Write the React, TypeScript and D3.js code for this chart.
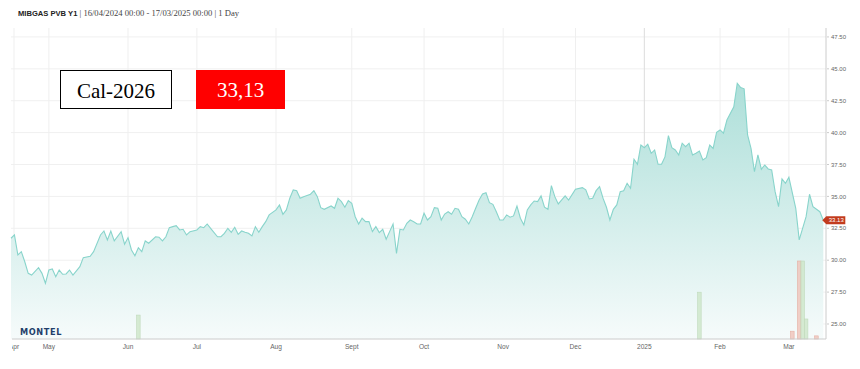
import React, { useEffect, useRef } from "react";
import * as d3 from "d3";

// trading days (weekdays, exchange holidays removed)
const tradeDates = [
  "2024-04-16", "2024-04-17", "2024-04-18", "2024-04-19", "2024-04-22", "2024-04-23", "2024-04-24", "2024-04-26", "2024-04-29", "2024-04-30",
  "2024-05-01", "2024-05-02", "2024-05-03", "2024-05-06", "2024-05-07", "2024-05-08", "2024-05-09", "2024-05-10", "2024-05-14", "2024-05-15",
  "2024-05-17", "2024-05-20", "2024-05-22", "2024-05-23", "2024-05-24", "2024-05-27", "2024-05-28", "2024-05-30", "2024-05-31",
  "2024-06-03", "2024-06-04", "2024-06-05", "2024-06-06", "2024-06-07", "2024-06-10", "2024-06-11", "2024-06-13", "2024-06-14", "2024-06-17",
  "2024-06-18", "2024-06-19", "2024-06-20", "2024-06-21", "2024-06-24", "2024-06-25", "2024-06-26", "2024-06-27",
  "2024-07-01", "2024-07-02", "2024-07-03", "2024-07-04", "2024-07-05", "2024-07-09", "2024-07-10", "2024-07-11", "2024-07-12", "2024-07-15",
  "2024-07-16", "2024-07-17", "2024-07-18", "2024-07-19", "2024-07-22", "2024-07-23", "2024-07-24", "2024-07-25", "2024-07-26", "2024-07-29", "2024-07-30",
  "2024-08-01", "2024-08-02", "2024-08-05", "2024-08-06", "2024-08-07", "2024-08-08", "2024-08-09", "2024-08-12", "2024-08-13", "2024-08-15",
  "2024-08-16", "2024-08-19", "2024-08-20", "2024-08-21", "2024-08-23", "2024-08-26", "2024-08-27", "2024-08-28", "2024-08-29", "2024-08-30",
  "2024-09-02", "2024-09-03", "2024-09-04", "2024-09-05", "2024-09-06", "2024-09-09", "2024-09-10", "2024-09-11", "2024-09-12", "2024-09-13",
  "2024-09-16", "2024-09-17", "2024-09-18", "2024-09-19", "2024-09-20", "2024-09-23", "2024-09-24", "2024-09-25", "2024-09-26", "2024-09-27", "2024-09-30",
  "2024-10-01", "2024-10-02", "2024-10-03", "2024-10-04", "2024-10-07", "2024-10-08", "2024-10-09", "2024-10-10", "2024-10-11", "2024-10-14",
  "2024-10-15", "2024-10-16", "2024-10-17", "2024-10-18", "2024-10-21", "2024-10-22", "2024-10-23", "2024-10-24", "2024-10-25", "2024-10-28",
  "2024-10-29", "2024-10-30", "2024-10-31",
  "2024-11-01", "2024-11-04", "2024-11-05", "2024-11-06", "2024-11-07", "2024-11-08", "2024-11-11", "2024-11-12", "2024-11-13", "2024-11-14",
  "2024-11-15", "2024-11-18", "2024-11-19", "2024-11-20", "2024-11-21", "2024-11-22", "2024-11-25", "2024-11-26", "2024-11-27", "2024-11-28",
  "2024-12-02", "2024-12-04", "2024-12-05", "2024-12-06", "2024-12-09", "2024-12-10", "2024-12-11", "2024-12-12", "2024-12-13", "2024-12-16",
  "2024-12-17", "2024-12-18", "2024-12-19", "2024-12-20", "2024-12-23", "2024-12-24", "2024-12-27", "2024-12-30", "2024-12-31",
  "2025-01-02", "2025-01-03", "2025-01-06", "2025-01-07", "2025-01-08", "2025-01-09", "2025-01-10", "2025-01-13", "2025-01-14", "2025-01-15",
  "2025-01-16", "2025-01-17", "2025-01-20", "2025-01-21", "2025-01-22", "2025-01-23", "2025-01-24", "2025-01-27", "2025-01-28", "2025-01-29",
  "2025-01-30", "2025-01-31",
  "2025-02-03", "2025-02-04", "2025-02-05", "2025-02-07", "2025-02-10", "2025-02-11", "2025-02-12", "2025-02-13", "2025-02-14", "2025-02-17",
  "2025-02-18", "2025-02-19", "2025-02-20", "2025-02-21", "2025-02-24", "2025-02-25", "2025-02-26", "2025-02-27", "2025-02-28",
  "2025-03-03", "2025-03-05", "2025-03-06", "2025-03-10", "2025-03-11", "2025-03-12", "2025-03-14", "2025-03-17",
];

const prices = [
  31.72, 31.98, 30.41, 30.67, 29.88, 28.97, 28.84, 29.41, 28.97, 28.19,
  29.23, 29.31, 28.71, 29.23, 28.90, 28.92, 29.23, 28.84, 29.49, 30.20,
  30.31, 30.67, 31.98, 32.29, 31.59, 32.29, 31.51, 32.24, 31.25,
  31.77, 30.80, 30.35, 30.98, 30.67, 31.51, 31.33, 31.84, 31.80, 31.51,
  31.84, 32.55, 32.63, 32.71, 32.37, 32.42, 31.98, 32.24,
  32.37, 32.63, 32.55, 32.84, 32.50, 31.84, 31.84, 32.11, 32.50, 32.19,
  32.58, 32.03, 32.29, 32.19, 32.11, 31.90, 32.63, 32.19, 32.63, 33.02, 33.55,
  33.94, 34.33, 33.60, 33.94, 34.86, 35.51, 35.45, 34.86, 34.98, 35.17,
  35.45, 34.98, 34.12, 33.99, 34.25, 34.07, 34.86, 34.59, 34.15, 34.67,
  34.46, 33.41, 32.84, 33.29, 33.02, 33.02, 32.24, 32.63, 32.16, 32.42,
  31.64, 32.24, 32.84, 30.54, 32.42, 32.37, 32.89, 33.15, 33.02, 32.84, 32.84,
  33.68, 33.15, 33.41, 34.12, 34.07, 33.15, 33.62, 33.80, 33.60, 34.07,
  33.99, 33.41, 33.21, 32.84, 33.41, 34.07, 34.72, 35.19, 35.29, 34.51,
  34.38, 33.80, 33.15,
  33.15, 33.55, 33.37, 33.47, 34.25, 33.29, 32.76, 33.94, 34.33, 34.64,
  34.59, 35.04, 34.15, 33.99, 35.84, 34.98, 34.41, 34.72, 35.04, 34.72,
  35.56, 35.69, 35.51, 34.80, 34.86, 35.45, 35.77, 34.86, 34.15, 33.15,
  33.99, 34.33, 35.37, 35.45, 36.03, 35.64, 37.91, 37.52, 39.03,
  38.82, 39.09, 38.38, 38.64, 37.52, 37.52, 38.10, 39.76, 38.82, 38.64,
  38.25, 39.17, 38.90, 39.17, 38.25, 38.38, 38.56, 37.86, 38.04, 39.03,
  38.77, 40.03,
  40.21, 39.95, 40.99, 42.03, 43.87, 43.53, 43.43, 39.82, 38.77, 36.94,
  38.25, 37.13, 37.46, 37.15, 37.07, 35.37, 34.20, 36.37, 36.03,
  36.50, 34.07, 31.59, 33.41, 35.17, 34.20, 33.80, 33.13,
];

const volumeDates = ["2024-06-06", "2025-01-24", "2025-03-04", "2025-03-06", "2025-03-07", "2025-03-10", "2025-03-13"];
const volumes = [9.2, 18, 3, 30, 30, 7.7, 1.2];
const volumeSide = ["up", "up", "down", "down", "up", "up", "down"];

const holidays = ["2024-12-25", "2024-12-26", "2025-01-01"];
const firstDay = "2024-04-16";
const lastDay = "2025-03-17";

const yTicks = [25, 27.5, 30, 32.5, 35, 37.5, 40, 42.5, 45, 47.5];
const monthTickDates = ["2024-04-16", "2024-05-01", "2024-06-03", "2024-07-01", "2024-08-01", "2024-09-02", "2024-10-01", "2024-11-01", "2024-12-02", "2025-01-02", "2025-02-03", "2025-03-03"];
const monthTickLabels = ["Apr", "May", "Jun", "Jul", "Aug", "Sept", "Oct", "Nov", "Dec", "2025", "Feb", "Mar"];

const contract = "Cal-2026";
const lastPriceLabel = "33,13";
const lastPrice = 33.13;

const W = 860;
const H = 369;

const App = () => {
  const svgRef = useRef<SVGSVGElement | null>(null);

  useEffect(() => {
    const svg = d3.select(svgRef.current);
    svg.selectAll("*").remove();

    const margin = { top: 28, right: 34, bottom: 30, left: 11 };
    const plotRight = W - margin.right;
    const plotBottom = H - margin.bottom;

    // ordinal trading-day axis: weekdays without holidays
    const fmt = d3.utcFormat("%Y-%m-%d");
    const parse = d3.utcParse("%Y-%m-%d");
    const days = d3
      .utcDays(parse(firstDay)!, d3.utcDay.offset(parse(lastDay)!, 1))
      .filter(d => d.getUTCDay() !== 0 && d.getUTCDay() !== 6 && !holidays.includes(fmt(d)));
    const dayIndex = new Map(days.map((d, i) => [fmt(d), i]));

    const x = d3.scaleLinear().domain([0, days.length - 1]).range([margin.left, 823.3]);
    const y = d3.scaleLinear().domain([23.824, 48.2]).range([plotBottom, margin.top]);
    const tickX = (d: string) => x(dayIndex.get(d)!) + (d === firstDay ? 3 : 0);

    const data = tradeDates.map((d, i) => ({ i: dayIndex.get(d)!, v: prices[i] }));

    const defs = svg.append("defs");
    const grad = defs.append("linearGradient").attr("id", "areaFill").attr("x1", 0).attr("y1", 0).attr("x2", 0).attr("y2", 1);
    grad.append("stop").attr("offset", "0%").attr("stop-color", "#addfd9");
    grad.append("stop").attr("offset", "100%").attr("stop-color", "#f6fbfb");
    defs.append("clipPath").attr("id", "labelClip")
      .append("rect").attr("x", margin.left + 1).attr("y", 0).attr("width", W - margin.left).attr("height", H);

    // title
    const title = svg.append("text").attr("x", 18).attr("y", 16).attr("font-size", 7.6).attr("fill", "#222");
    title.append("tspan").attr("font-family", "Liberation Sans, Arial, sans-serif").attr("font-weight", "bold").text("MIBGAS PVB Y1");
    title.append("tspan").attr("font-family", "Liberation Serif, serif").attr("font-size", 8.6).attr("fill", "#444")
      .text(" | 16/04/2024 00:00 - 17/03/2025 00:00 | 1 Day");

    // grid
    const grid = svg.append("g");
    grid.selectAll("line.h").data(yTicks).join("line")
      .attr("x1", margin.left).attr("x2", plotRight)
      .attr("y1", d => y(d)).attr("y2", d => y(d))
      .attr("stroke", "#f0f0f0");
    grid.selectAll("line.v").data(monthTickDates).join("line")
      .attr("x1", tickX).attr("x2", tickX)
      .attr("y1", margin.top).attr("y2", plotBottom)
      .attr("stroke", d => (d.startsWith("2025-01") ? "#dcdcdc" : "#efefef"));

    // area + line
    const area = d3.area<{ i: number; v: number }>().x(d => x(d.i)).y0(plotBottom).y1(d => y(d.v));
    const line = d3.line<{ i: number; v: number }>().x(d => x(d.i)).y(d => y(d.v));
    svg.append("path").datum(data).attr("d", area).attr("fill", "url(#areaFill)");
    svg.append("path").datum(data).attr("d", line).attr("fill", "none").attr("stroke", "#88d4cb").attr("stroke-width", 1.1);

    // volume columns
    const yv = d3.scaleLinear().domain([0, 30]).range([plotBottom, 261]);
    svg.append("g").selectAll("rect").data(volumeDates).join("rect")
      .attr("x", d => x(dayIndex.get(d)!) - 1.8)
      .attr("width", 3.6)
      .attr("y", (d, i) => yv(volumes[i]))
      .attr("height", (d, i) => plotBottom - yv(volumes[i]))
      .attr("fill", (d, i) => (volumeSide[i] === "up" ? "rgba(205,230,200,0.8)" : "rgba(240,195,185,0.8)"))
      .attr("stroke", (d, i) => (volumeSide[i] === "up" ? "#c0dabc" : "#e5b0a4"))
      .attr("stroke-width", 0.6);

    // x axis
    const xAxis = svg.append("g").attr("clip-path", "url(#labelClip)");
    xAxis.append("line").attr("x1", margin.left).attr("x2", plotRight)
      .attr("y1", plotBottom).attr("y2", plotBottom).attr("stroke", "#cccccc");
    xAxis.selectAll("text").data(monthTickDates).join("text")
      .attr("x", tickX)
      .attr("y", plotBottom + 9.5)
      .attr("text-anchor", "middle")
      .attr("font-family", "Liberation Sans, Arial, sans-serif")
      .attr("font-size", 6.6)
      .attr("fill", "#666")
      .text((d, i) => monthTickLabels[i]);

    // y axis (right)
    const yAxis = svg.append("g").attr("transform", `translate(${plotRight}, 0)`);
    yAxis.append("line").attr("y1", margin.top).attr("y2", plotBottom).attr("stroke", "#cccccc");
    yAxis.call(g => {
      g.selectAll("line.t").data(yTicks).join("line")
        .attr("x1", 1).attr("x2", 3)
        .attr("y1", d => y(d)).attr("y2", d => y(d))
        .attr("stroke", "#aaa").attr("stroke-width", 0.6);
      g.selectAll("text").data(yTicks).join("text")
        .attr("x", 5).attr("y", d => y(d)).attr("dy", "0.35em")
        .attr("font-family", "Liberation Sans, Arial, sans-serif")
        .attr("font-size", 6)
        .attr("fill", "#666")
        .text(d => d3.format(".2f")(d));
    });

    // last price marker
    const py = y(lastPrice);
    const mx = x(dayIndex.get(lastDay)!) - 1;
    svg.append("path")
      .attr("d", `M${mx},${py} L${mx + 4},${py - 4} H${mx + 23} V${py + 4} H${mx + 4} Z`)
      .attr("fill", "#c23b1e");
    svg.append("text").attr("x", mx + 14).attr("y", py).attr("dy", "0.35em").attr("text-anchor", "middle")
      .attr("font-family", "Liberation Sans, Arial, sans-serif").attr("font-size", 6).attr("fill", "#fff")
      .text(d3.format(".2f")(lastPrice));

    // logo
    svg.append("text").attr("x", 20).attr("y", 334.5)
      .attr("font-family", "DejaVu Sans, sans-serif").attr("font-weight", "bold").attr("font-size", 8.2)
      .attr("letter-spacing", 0.6).attr("fill", "#1f3f6b").text("MONTEL");

    // contract and price boxes
    svg.append("rect").attr("x", 60.5).attr("y", 70.5).attr("width", 111).attr("height", 38)
      .attr("fill", "#fff").attr("stroke", "#000").attr("stroke-width", 1);
    svg.append("text").attr("x", 116).attr("y", 98).attr("text-anchor", "middle")
      .attr("font-family", "Liberation Serif, Times New Roman, serif").attr("font-size", 21).attr("fill", "#000")
      .text(contract);
    svg.append("rect").attr("x", 196).attr("y", 70).attr("width", 89).attr("height", 39).attr("fill", "#ff0000");
    svg.append("text").attr("x", 240.5).attr("y", 97).attr("text-anchor", "middle")
      .attr("font-family", "Liberation Serif, Times New Roman, serif").attr("font-size", 21).attr("fill", "#fff")
      .text(lastPriceLabel);
  }, []);

  return (
    <svg
      ref={svgRef}
      width={W}
      height={H}
      style={{ position: "absolute", left: 0, top: 0, background: "#fff" }}
    />
  );
};

export default App;
